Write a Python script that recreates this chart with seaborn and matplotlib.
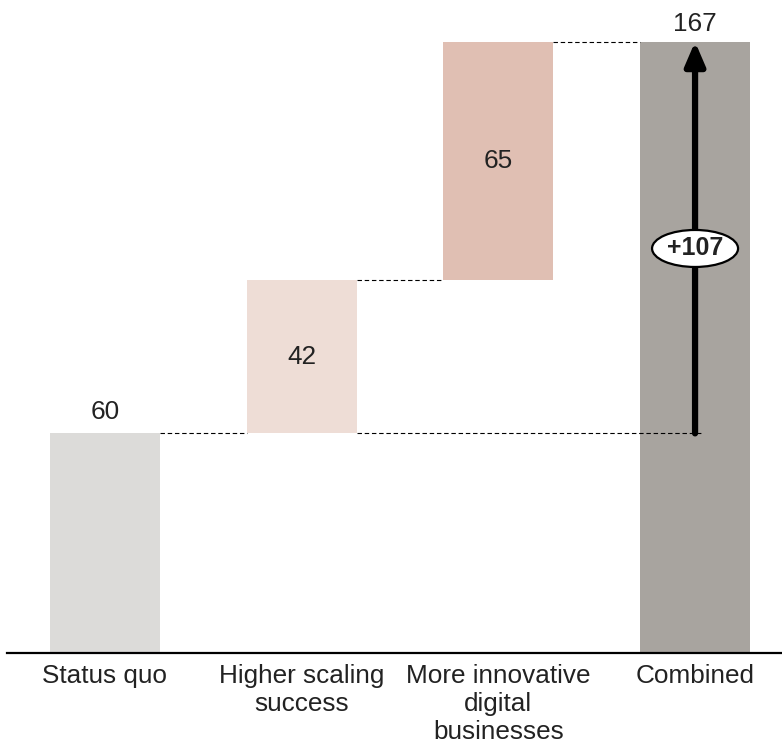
import matplotlib
matplotlib.use("Agg")
import matplotlib.pyplot as plt
from matplotlib.patches import Ellipse
import seaborn as sns
import pandas as pd

# Waterfall data
categories = ["Status quo", "Higher scaling\nsuccess", "More innovative\ndigital\nbusinesses", "Combined"]
steps = [60, 42, 65]
total = sum(steps)  # 167
gain = total - steps[0]  # 107
bar_colors = ["#dcdbd9", "#eeddd6", "#e0bfb3", "#a8a49f"]

bottoms = [0, steps[0], steps[0] + steps[1], 0]
heights = [steps[0], steps[1], steps[2], total]

sns.set_theme(style="white")
plt.rcParams["font.family"] = ["Liberation Sans", "DejaVu Sans"]
text_color = "#222222"

W, H = 782, 747
fig = plt.figure(figsize=(W / 100, H / 100), dpi=100)
ax = fig.add_axes([7 / W, 94 / H, 1 - 7 / W, 653 / H])

df = pd.DataFrame({"category": categories, "height": heights})
sns.barplot(data=df, x="category", y="height", color="#cccccc", width=0.56,
            bottom=bottoms, ax=ax, saturation=1, linewidth=0)
for patch, c in zip(ax.patches, bar_colors):
    patch.set_facecolor(c)

ax.set_xlim(-0.498, 3.442)
ax.set_ylim(0, 178.4)

for s in ["top", "right", "left"]:
    ax.spines[s].set_visible(False)
ax.spines["bottom"].set_color("black")
ax.spines["bottom"].set_linewidth(1.6)
ax.set_yticks([])
ax.set_xlabel("")
ax.set_ylabel("")
fs = 18.8
ax.tick_params(axis="x", length=0, pad=8, labelsize=fs, labelcolor=text_color)
for lbl in ax.get_xticklabels():
    lbl.set_linespacing(1.2)

half = 0.28
# Connector lines
dash = dict(color="black", lw=0.8, linestyle=(0, (4, 2.5)))
ax.plot([0 + half, 1 - half], [steps[0]] * 2, **dash)
ax.plot([1 + half, 3.04], [steps[0]] * 2, **dash)
ax.plot([1 + half, 2 - half], [steps[0] + steps[1]] * 2, **dash)
ax.plot([2 + half, 3 - half], [total] * 2, **dash)

# Value labels
ax.text(0, steps[0] + 2.5, f"{steps[0]}", ha="center", va="bottom", fontsize=fs, color=text_color)
ax.text(1, steps[0] + steps[1] / 2, f"{steps[1]}", ha="center", va="center", fontsize=fs, color=text_color)
ax.text(2, steps[0] + steps[1] + steps[2] / 2, f"{steps[2]}", ha="center", va="center",
        fontsize=fs, color=text_color)
ax.text(3, total + 1.5, f"{total}", ha="center", va="bottom", fontsize=fs, color=text_color)

# Growth arrow on the combined bar
ax.annotate("", xy=(3, total), xytext=(3, steps[0]),
            arrowprops=dict(arrowstyle="-|>,head_length=0.7,head_width=0.3", lw=4.5,
                            color="black", shrinkA=0, shrinkB=0, mutation_scale=20))
ey = (653 - 248.5) / 3.66
ax.add_patch(Ellipse((3, ey), width=86 / 196.7, height=37 / 3.66, facecolor="white",
                     edgecolor="black", lw=1.6, zorder=5))
ax.text(3, ey, f"+{gain}", ha="center", va="center", fontsize=18, fontweight="bold",
        color=text_color, zorder=6)

fig.savefig("out.png", dpi=100)
